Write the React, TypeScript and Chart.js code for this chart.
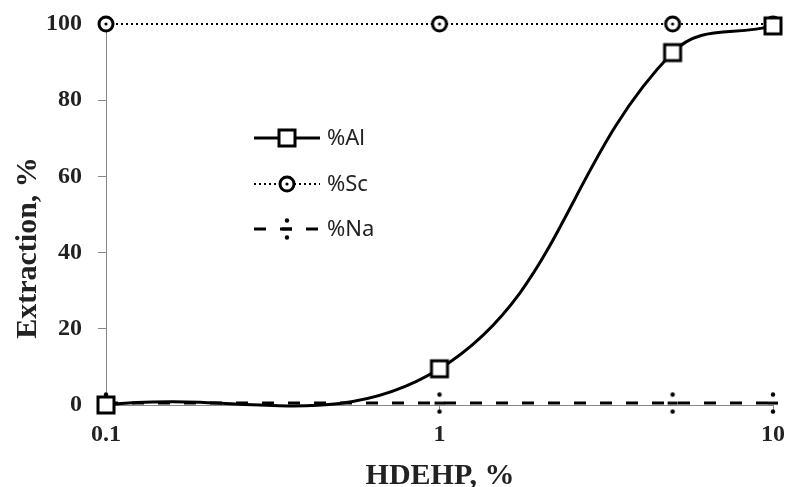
import React, { useEffect, useRef } from 'react';
import { Chart, registerables } from 'chart.js';
Chart.register(...registerables);

const hdehp = [0.1, 1, 5, 10];
const alExtraction = [0, 9.5, 92.5, 99.5];
const scExtraction = [100, 100, 100, 100];
const naExtraction = [0.5, 0.5, 0.5, 0.5];
const xTickValues = [0.1, 1, 10];
const seriesNames = ['%Al', '%Sc', '%Na'];
const xTitle = 'HDEHP, %';
const yTitle = 'Extraction, %';

const SERIF = '"Liberation Serif", "Times New Roman", Tinos, Times, serif';

function makeSquare() {
  const c = document.createElement('canvas');
  c.width = 22; c.height = 22;
  const g = c.getContext('2d')!;
  g.fillStyle = '#fff'; g.strokeStyle = '#000'; g.lineWidth = 3;
  g.fillRect(3, 3, 16, 16); g.strokeRect(3, 3, 16, 16);
  return c;
}
function makeCircle() {
  const c = document.createElement('canvas');
  c.width = 20; c.height = 20;
  const g = c.getContext('2d')!;
  g.fillStyle = '#fff'; g.strokeStyle = '#000'; g.lineWidth = 3;
  g.beginPath(); g.arc(10, 10, 7, 0, Math.PI * 2); g.fill(); g.stroke();
  g.fillStyle = '#000';
  g.beginPath(); g.arc(10, 10, 1.6, 0, Math.PI * 2); g.fill();
  return c;
}
function makeDivide() {
  const c = document.createElement('canvas');
  c.width = 14; c.height = 22;
  const g = c.getContext('2d')!;
  g.fillStyle = '#000';
  g.fillRect(2, 9.5, 10, 3);
  g.beginPath(); g.arc(7, 2.5, 2.2, 0, Math.PI * 2); g.fill();
  g.beginPath(); g.arc(7, 19.5, 2.2, 0, Math.PI * 2); g.fill();
  return c;
}

export default function App() {
  const ref = useRef<HTMLCanvasElement>(null);
  useEffect(() => {
    const sq = makeSquare();
    const ci = makeCircle();
    const dv = makeDivide();
    const styles = [
      { marker: sq, dash: [] as number[], width: 3 },
      { marker: ci, dash: [2, 3], width: 2 },
      { marker: dv, dash: [12, 14], width: 3 },
    ];
    const overlay = {
      id: 'overlay',
      afterDraw(chart: any) {
        const ctx = chart.ctx;
        ctx.save();
        const rows = [138, 184, 229];
        rows.forEach((y, i) => {
          const s = styles[i];
          ctx.setLineDash(s.dash);
          ctx.lineWidth = s.width;
          ctx.strokeStyle = '#000';
          ctx.beginPath(); ctx.moveTo(254, y); ctx.lineTo(320, y); ctx.stroke();
          ctx.setLineDash([]);
          ctx.drawImage(s.marker, Math.round(287 - s.marker.width / 2), Math.round(y - s.marker.height / 2));
          ctx.fillStyle = '#222';
          ctx.font = '22px "Noto Sans"';
          ctx.textAlign = 'left';
          ctx.textBaseline = 'middle';
          ctx.fillText(seriesNames[i], 327, y + 1);
        });
        ctx.fillStyle = '#222';
        ctx.font = 'bold 30px ' + SERIF;
        ctx.textAlign = 'center';
        ctx.textBaseline = 'alphabetic';
        ctx.fillText(xTitle, 440, 484);
        ctx.translate(36, 248);
        ctx.rotate(-Math.PI / 2);
        ctx.fillText(yTitle, 0, 0);
        ctx.restore();
      },
    };
    const mk = (vals: number[]) => hdehp.map((x, i) => ({ x, y: vals[i] }));
    const chart = new Chart(ref.current!, {
      type: 'line',
      data: {
        datasets: [
          { label: seriesNames[0], data: mk(alExtraction), borderColor: '#000', borderWidth: 3, pointStyle: sq as any, tension: 0.4, capBezierPoints: false, clip: false as any, fill: false } as any,
          { label: seriesNames[1], data: mk(scExtraction), borderColor: '#000', borderWidth: 2, borderDash: [2, 3], pointStyle: ci as any, tension: 0, clip: false as any, fill: false },
          { label: seriesNames[2], data: mk(naExtraction), borderColor: '#000', borderWidth: 3, borderDash: [12, 14], pointStyle: dv as any, tension: 0, clip: false as any, fill: false },
        ],
      },
      options: {
        animation: false,
        responsive: true,
        maintainAspectRatio: false,
        layout: { padding: { top: 24, right: 14, left: 0, bottom: 0 } },
        plugins: { legend: { display: false }, tooltip: { enabled: false } },
        scales: {
          x: {
            type: 'logarithmic',
            min: 0.1,
            max: 10,
            afterBuildTicks: (s: any) => { s.ticks = xTickValues.map((v) => ({ value: v })); },
            afterFit: (s: any) => { s.height = 82; s.paddingLeft = 0; s.paddingRight = 0; },
            ticks: {
              autoSkip: false,
              maxRotation: 0,
              padding: 9,
              color: '#222',
              font: { family: SERIF, size: 24, weight: 'bold' },
              callback: (v: any) => String(v),
            },
            grid: { drawOnChartArea: false, drawTicks: true, tickLength: 6, color: '#888' },
            border: { color: '#888', width: 1 },
          },
          y: {
            min: 0,
            max: 100,
            afterFit: (s: any) => { s.width = 106; s.paddingTop = 0; s.paddingBottom = 0; },
            ticks: {
              stepSize: 20,
              padding: 16,
              color: '#222',
              font: { family: SERIF, size: 24, weight: 'bold' },
            },
            grid: { drawOnChartArea: false, drawTicks: true, tickLength: 8, color: '#888' },
            border: { color: '#888', width: 1 },
          },
        },
      },
      plugins: [overlay],
    });
    return () => chart.destroy();
  }, []);
  return (
    <div style={{ position: 'absolute', left: 0, top: 0, width: 787, height: 487 }}>
      <canvas ref={ref} />
    </div>
  );
}
